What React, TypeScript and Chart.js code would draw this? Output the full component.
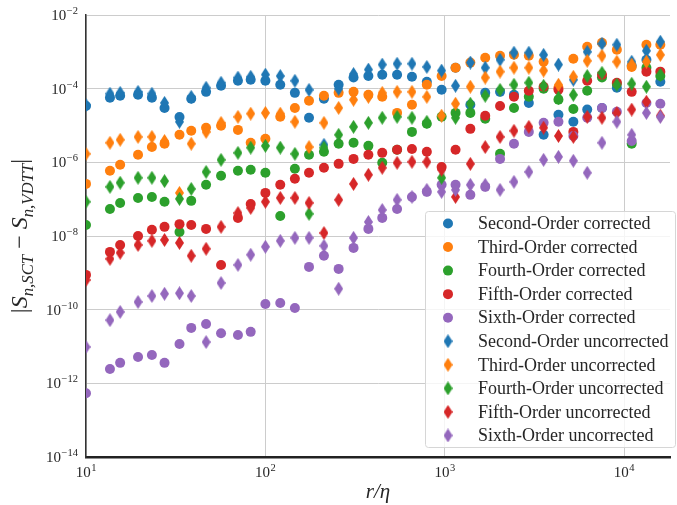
import React, { useEffect, useRef } from 'react';
import { Chart, registerables } from 'chart.js';

Chart.register(...registerables);

// r/eta sample positions
const rValues = [10, 13.6, 15.5, 19.5, 23.3, 27.4, 33.2, 38.6, 46.7, 56.6, 70.3, 82.8, 100, 121, 146, 175, 212, 256, 310, 375, 448, 542, 656, 794, 960, 1148, 1388, 1680, 2032, 2430, 2940, 3555, 4300, 5207, 6220, 7520, 9100, 11010, 13300, 15900];

const secondCorrected = [3.4e-5, 5.7e-5, 6.4e-5, 6.8e-5, 5.7e-5, 3.0e-5, 1.7e-5, 5.3e-5, 8.2e-5, 1.2e-4, 1.64e-4, 1.75e-4, 1.64e-4, 1.28e-4, 7.7e-5, 1.62e-5, 5.3e-5, 1.28e-4, 2.0e-4, 2.2e-4, 2.4e-4, 2.4e-4, 2.1e-4, 1.54e-4, 9.3e-5, 3.7e-4, 3.65e-5, 7.7e-5, 8.2e-5, 6.8e-5, 4.1e-5, 5.6e-6, 1.95e-5, 1.26e-5, 2.7e-5, 3.0e-5, 1.06e-4, 4.2e-4, 6.1e-4, 1.54e-4];
const thirdCorrected = [2.6e-7, 5.9e-7, 8.6e-7, 1.6e-6, 2.6e-6, 3.2e-6, 5.6e-6, 7.2e-6, 8.7e-6, 9.8e-6, 7.6e-6, 3.4e-6, 4.35e-6, 1.72e-5, 3.0e-5, 4.7e-5, 6.4e-5, 7.7e-5, 8.2e-5, 6.8e-5, 6.0e-5, 2.2e-5, 3.65e-5, 1.28e-4, 2.2e-4, 3.7e-4, 5.1e-4, 6.9e-4, 7.8e-4, 8.3e-4, 7.8e-4, 5.4e-4, 1.06e-4, 6.5e-4, 1.38e-3, 1.77e-3, 1.14e-3, 3.9e-4, 1.56e-3, 1.56e-3];
const fourthCorrected = [2.0e-8, 5.4e-8, 7.9e-8, 1.08e-7, 1.15e-7, 8.5e-8, 1.29e-8, 9.0e-8, 2.45e-7, 4.3e-7, 5.9e-7, 6.3e-7, 5.2e-7, 3.5e-8, 6.7e-7, 1.6e-6, 1.93e-6, 3.2e-6, 3.4e-6, 2.8e-6, 9.7e-7, 2.2e-6, 6.7e-6, 1.11e-5, 1.72e-5, 2.2e-5, 2.2e-5, 1.52e-5, 1.7e-6, 3.0e-5, 6.0e-5, 9.9e-5, 5.0e-5, 2.8e-5, 8.8e-5, 2.0e-4, 1.36e-4, 3.2e-6, 3.7e-4, 2.2e-4];
const fifthCorrected = [8.8e-10, 3.7e-9, 5.7e-9, 1.0e-8, 1.47e-8, 1.77e-8, 2.1e-8, 2.0e-8, 1.56e-8, 1.64e-9, 3.1e-8, 7.4e-8, 1.48e-7, 2.45e-7, 3.6e-7, 5.2e-7, 7.1e-7, 9.1e-7, 1.24e-6, 1.6e-6, 1.81e-6, 2.2e-6, 2.3e-6, 1.93e-6, 7.5e-7, 2.2e-6, 8.1e-6, 1.84e-5, 3.4e-5, 6.0e-5, 8.8e-5, 1.13e-4, 9.3e-5, 6.7e-6, 1.64e-4, 2.4e-4, 1.45e-4, 8.2e-5, 2.9e-4, 2.9e-4];
const sixthCorrected = [5.4e-13, 2.45e-12, 3.6e-12, 5.2e-12, 5.9e-12, 3.6e-12, 1.17e-11, 3.2e-11, 4.1e-11, 2.3e-11, 2.05e-11, 2.5e-11, 1.43e-10, 1.52e-10, 1.11e-10, 1.45e-9, 2.9e-9, 1.28e-9, 4.75e-9, 1.56e-8, 3.1e-8, 5.4e-8, 1.15e-7, 1.58e-7, 2.45e-7, 2.45e-7, 1.31e-7, 2.16e-7, 1.24e-6, 3.2e-6, 6.7e-6, 1.18e-5, 1.26e-5, 5.2e-6, 1.62e-5, 3.0e-5, 2.35e-5, 3.8e-6, 4.1e-5, 3.9e-5];

const secondUncorrected = [3.6e-5, 7.3e-5, 7.7e-5, 8.2e-5, 7.3e-5, 4.1e-5, 1.26e-5, 6.0e-5, 1.06e-4, 1.45e-4, 2.0e-4, 2.1e-4, 2.4e-4, 2.2e-4, 1.64e-4, 9.3e-5, 3.0e-6, 9.9e-5, 2.5e-4, 3.3e-4, 4.5e-4, 4.75e-4, 4.75e-4, 3.9e-4, 3.1e-4, 1.2e-4, 5.1e-4, 3.7e-4, 6.1e-4, 9.5e-4, 9.5e-4, 8.3e-4, 4.5e-4, 1.75e-4, 1.0e-3, 1.66e-3, 1.56e-3, 5.4e-4, 1.07e-3, 1.88e-3];
const thirdUncorrected = [1.7e-6, 3.4e-6, 4.1e-6, 4.9e-6, 4.9e-6, 3.8e-6, 1.48e-7, 3.2e-6, 6.7e-6, 1.18e-5, 1.72e-5, 2.1e-5, 2.2e-5, 2.1e-5, 1.26e-5, 2.6e-6, 1.18e-5, 3.0e-5, 5.0e-5, 6.0e-5, 7.7e-5, 8.2e-5, 8.2e-5, 6.0e-5, 1.84e-5, 3.9e-5, 1.13e-4, 2.0e-4, 2.9e-4, 3.7e-4, 3.7e-4, 3.1e-4, 1.28e-4, 2.1e-4, 5.7e-4, 7.8e-4, 5.4e-4, 4.5e-4, 5.4e-4, 8.3e-4];
const fourthUncorrected = [8.5e-8, 2.16e-7, 2.8e-7, 3.8e-7, 3.8e-7, 3.1e-7, 1.02e-7, 1.9e-7, 5.5e-7, 1.17e-6, 1.81e-6, 2.5e-6, 2.8e-6, 2.5e-6, 1.7e-6, 4.0e-8, 2.5e-6, 5.6e-6, 9.2e-6, 1.18e-5, 1.62e-5, 1.72e-5, 1.62e-5, 1.26e-5, 3.8e-7, 1.62e-5, 3.9e-5, 6.4e-5, 9.3e-5, 1.28e-4, 1.45e-4, 1.2e-4, 5.7e-5, 6.8e-5, 2.2e-4, 2.7e-4, 1.28e-4, 1.36e-4, 1.13e-4, 2.4e-4];
const fifthUncorrected = [6.4e-10, 2.4e-9, 3.5e-9, 5.7e-9, 7.4e-9, 7.8e-9, 6.5e-9, 2.9e-9, 4.5e-9, 1.77e-8, 4.2e-8, 5.8e-8, 8.5e-8, 1.08e-7, 1.08e-7, 7.9e-8, 1.21e-8, 9.6e-8, 2.6e-7, 4.6e-7, 7.1e-7, 9.7e-7, 1.03e-6, 1.03e-6, 6.3e-7, 1.15e-7, 9.1e-7, 2.6e-6, 4.9e-6, 7.2e-6, 9.2e-6, 8.7e-6, 5.2e-6, 4.9e-6, 1.72e-5, 1.62e-5, 2.2e-5, 2.7e-5, 4.4e-5, 1.84e-5];
const sixthUncorrected = [9.7e-12, 5.2e-11, 8.7e-11, 1.62e-10, 2.35e-10, 2.7e-10, 2.8e-10, 2.35e-10, 1.32e-11, 5.3e-10, 1.64e-9, 3.1e-9, 5.1e-9, 7.4e-9, 8.9e-9, 8.9e-9, 5.4e-9, 3.7e-10, 8.9e-9, 2.4e-8, 5.1e-8, 9.6e-8, 1.15e-7, 1.79e-7, 1.58e-7, 1.79e-7, 2.45e-7, 2.45e-7, 1.79e-7, 2.95e-7, 5.5e-7, 1.17e-6, 1.41e-6, 1.1e-6, 5.2e-7, 3.4e-6, 1.26e-5, 5.6e-6, 2.2e-5, 1.72e-5];

const orderNames = ['Second-Order', 'Third-Order', 'Fourth-Order', 'Fifth-Order', 'Sixth-Order'];
const correctedSeries = [secondCorrected, thirdCorrected, fourthCorrected, fifthCorrected, sixthCorrected];
const uncorrectedSeries = [secondUncorrected, thirdUncorrected, fourthUncorrected, fifthUncorrected, sixthUncorrected];
const seriesColors = ['#1f77b4', '#ff7f0e', '#2ca02c', '#d62728', '#9467bd'];

const xTickExponents = [1, 2, 3, 4];
const yTickExponents = [-14, -12, -10, -8, -6, -4, -2];
const xMin = 10;
const xMax = 18000;
const yMin = 1e-14;
const yMax = 1e-2;

const xTitle = 'r/η';
const yTitleParts = [
  { t: '|', it: false, sub: false },
  { t: 'S', it: true, sub: false },
  { t: 'n,SCT', it: true, sub: true },
  { t: ' − ', it: false, sub: false },
  { t: 'S', it: true, sub: false },
  { t: 'n,VDTT', it: true, sub: true },
  { t: '|', it: false, sub: false },
];

const SERIF = '"Liberation Serif", "Times New Roman", serif';
const TEXT = '#262626';

function expText(v: number): string {
  const e = Math.round(Math.log10(v));
  return e < 0 ? '−' + String(-e) : String(e);
}

function makeDiamond(color: string): HTMLCanvasElement {
  const c = document.createElement('canvas');
  c.width = 9;
  c.height = 14;
  const g = c.getContext('2d')!;
  g.fillStyle = color;
  g.beginPath();
  g.moveTo(4.5, 0);
  g.lineTo(9, 7);
  g.lineTo(4.5, 14);
  g.lineTo(0, 7);
  g.closePath();
  g.fill();
  return c;
}

// tick labels "10" with raised exponent, placed from the library's scales
const powTickPlugin = {
  id: 'powTicks',
  afterDraw(chart: any) {
    const ctx: CanvasRenderingContext2D = chart.ctx;
    const xs = chart.scales.x;
    const ys = chart.scales.y;
    ctx.save();
    ctx.fillStyle = TEXT;
    ctx.textBaseline = 'alphabetic';
    ctx.textAlign = 'left';
    const draw = (v: number, ax: number, baseY: number, align: string) => {
      const ex = expText(v);
      ctx.font = `15px ${SERIF}`;
      const w1 = ctx.measureText('10').width;
      ctx.font = `10.5px ${SERIF}`;
      const w2 = ctx.measureText(ex).width;
      const total = w1 + 0.5 + w2;
      const x0 = align === 'right' ? ax - total : ax - total / 2;
      ctx.font = `15px ${SERIF}`;
      ctx.fillText('10', x0, baseY);
      ctx.font = `10.5px ${SERIF}`;
      ctx.fillText(ex, x0 + w1 + 0.5, baseY - 6);
    };
    ys.ticks.forEach((t: any) => draw(t.value, chart.chartArea.left - 8, ys.getPixelForValue(t.value) + 5, 'right'));
    xs.ticks.forEach((t: any) => draw(t.value, xs.getPixelForValue(t.value), chart.chartArea.bottom + 20, 'center'));
    ctx.restore();
  },
};

const yTitlePlugin = {
  id: 'yTitleSub',
  afterDraw(chart: any) {
    const ctx: CanvasRenderingContext2D = chart.ctx;
    const targetLen = 168;
    const fontFor = (p: any, size: number) =>
      `${p.it ? 'italic ' : ''}${p.sub ? size * 0.7 : size}px ${SERIF}`;
    const measure = (size: number) =>
      yTitleParts.reduce((acc, p) => {
        ctx.font = fontFor(p, size);
        return acc + ctx.measureText(p.t).width;
      }, 0);
    ctx.save();
    let size = 20;
    size = Math.min(24, (size * targetLen) / measure(size));
    const total = measure(size);
    ctx.translate(22, (chart.chartArea.top + chart.chartArea.bottom) / 2);
    ctx.rotate(-Math.PI / 2);
    ctx.fillStyle = TEXT;
    ctx.textBaseline = 'alphabetic';
    ctx.textAlign = 'left';
    let x = -total / 2;
    for (const p of yTitleParts) {
      ctx.font = fontFor(p, size);
      ctx.fillText(p.t, x, p.sub ? 5 + size * 0.25 : 5);
      x += ctx.measureText(p.t).width;
    }
    ctx.restore();
  },
};

const boxLegendPlugin = {
  id: 'boxLegend',
  afterDraw(chart: any) {
    const ctx: CanvasRenderingContext2D = chart.ctx;
    const x0 = 425.5, y0 = 211.5, w = 250, h = 236, r = 3;
    ctx.save();
    ctx.beginPath();
    ctx.moveTo(x0 + r, y0);
    ctx.lineTo(x0 + w - r, y0);
    ctx.arcTo(x0 + w, y0, x0 + w, y0 + r, r);
    ctx.lineTo(x0 + w, y0 + h - r);
    ctx.arcTo(x0 + w, y0 + h, x0 + w - r, y0 + h, r);
    ctx.lineTo(x0 + r, y0 + h);
    ctx.arcTo(x0, y0 + h, x0, y0 + h - r, r);
    ctx.lineTo(x0, y0 + r);
    ctx.arcTo(x0, y0, x0 + r, y0, r);
    ctx.closePath();
    ctx.fillStyle = 'rgba(255,255,255,0.8)';
    ctx.fill();
    ctx.strokeStyle = '#d6d6d6';
    ctx.lineWidth = 1;
    ctx.stroke();
    const ds = chart.data.datasets;
    ctx.font = `18px ${SERIF}`;
    ctx.textBaseline = 'middle';
    ctx.textAlign = 'left';
    for (let i = 0; i < ds.length; i++) {
      const cy = 223.5 + i * 23.55;
      const d = ds[i];
      if (typeof d.pointStyle === 'string') {
        ctx.beginPath();
        ctx.arc(448, cy, 5, 0, Math.PI * 2);
        ctx.fillStyle = d.backgroundColor;
        ctx.fill();
      } else {
        const img = d.pointStyle as HTMLCanvasElement;
        ctx.drawImage(img, 448 - img.width / 2, cy - img.height / 2);
      }
      ctx.fillStyle = TEXT;
      ctx.fillText(d.label, 478, cy + 1);
    }
    ctx.restore();
  },
};

export default function App() {
  const ref = useRef<HTMLCanvasElement>(null);
  useEffect(() => {
    document.body.style.margin = '0';
    const canvas = ref.current!;
    const datasets: any[] = [];
    correctedSeries.forEach((vals, i) => {
      datasets.push({
        label: `${orderNames[i]} corrected`,
        data: rValues.map((r, k) => ({ x: r, y: vals[k] })),
        backgroundColor: seriesColors[i],
        borderWidth: 0,
        pointStyle: 'circle',
        pointRadius: 5,
        clip: 0,
        order: -i,
      });
    });
    uncorrectedSeries.forEach((vals, i) => {
      datasets.push({
        label: `${orderNames[i]} uncorrected`,
        data: rValues.map((r, k) => ({ x: r, y: vals[k] })),
        backgroundColor: seriesColors[i],
        borderWidth: 0,
        pointStyle: makeDiamond(seriesColors[i]),
        pointRadius: 7,
        clip: 0,
        order: -(i + 5),
      });
    });

    const chart = new Chart(canvas, {
      type: 'scatter',
      data: { datasets },
      options: {
        animation: false,
        responsive: true,
        maintainAspectRatio: false,
        devicePixelRatio: 1,
        events: [],
        layout: { padding: { top: 15, left: 0, right: 0, bottom: 0 } },
        plugins: { legend: { display: false }, tooltip: { enabled: false } },
        scales: {
          x: {
            type: 'logarithmic',
            min: xMin,
            max: xMax,
            afterBuildTicks: (s: any) => {
              s.ticks = xTickExponents.map((e) => ({ value: Math.pow(10, e) }));
            },
            afterFit: (s: any) => {
              s.height = 48;
              s.paddingLeft = 0;
              s.paddingRight = 0;
            },
            ticks: { display: false, autoSkip: false },
            grid: { color: '#cccccc', lineWidth: 1, drawTicks: false },
            border: { color: '#222222', width: 2.5 },
            title: {
              display: true,
              text: xTitle,
              font: { family: SERIF, style: 'italic', size: 21 },
              color: TEXT,
              padding: { top: 0, bottom: 0 },
            },
          },
          y: {
            type: 'logarithmic',
            min: yMin,
            max: yMax,
            afterBuildTicks: (s: any) => {
              s.ticks = yTickExponents.map((e) => ({ value: Math.pow(10, e) }));
            },
            afterFit: (s: any) => {
              s.width = 86;
              s.paddingTop = 0;
              s.paddingBottom = 0;
            },
            ticks: { display: false, autoSkip: false },
            grid: { color: '#cccccc', lineWidth: 1, drawTicks: false },
            border: { color: '#333333', width: 1.5 },
          },
        },
      } as any,
      plugins: [powTickPlugin, yTitlePlugin, boxLegendPlugin],
    });
    return () => chart.destroy();
  }, []);
  return (
    <div style={{ position: 'relative', width: 677, height: 505 }}>
      <canvas ref={ref} />
    </div>
  );
}
